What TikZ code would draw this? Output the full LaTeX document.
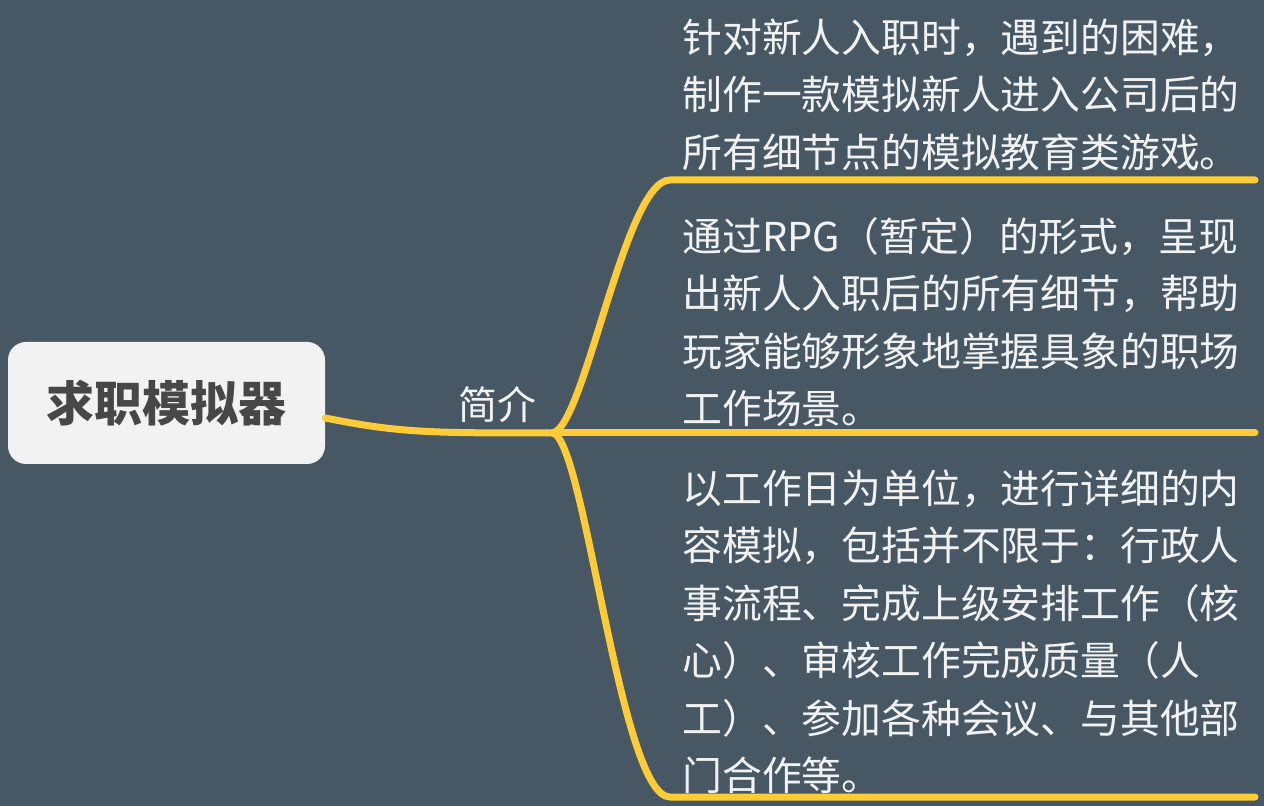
\documentclass[tikz,border=0pt]{standalone}
\usepackage{fontspec}
\setmainfont{Liberation Sans}
\newfontfamily\cjk{Noto Sans CJK SC}
\usetikzlibrary{calc}
\definecolor{bg}{HTML}{475864}
\definecolor{branch}{HTML}{FFCB37}
\definecolor{rootfill}{HTML}{F2F2F2}
\definecolor{rootink}{HTML}{474747}
\definecolor{leafink}{HTML}{F2F2F2}
\begin{document}
\begin{tikzpicture}[x=0.5pt,y=-0.5pt,
    branch/.style={draw=branch,line width=3.5pt,line cap=round},
    leaf/.style={anchor=west,inner sep=0pt,align=left,text=leafink,font=\cjk\fontsize{19.9}{28.75}\selectfont}]
            \fill[bg] (0,0) rectangle (1264,806);
            \node[fill=rootfill,rounded corners=9pt,minimum width=158.5pt,minimum height=61pt,text=rootink,font=\cjk\bfseries\fontsize{24}{28}\selectfont] (Root) at (166.5,403) {求职模拟器};
            \node[inner sep=0pt,text=leafink,font=\cjk\fontsize{19.5}{24}\selectfont] (Intro) at (497,405) {简介};
            \coordinate (J) at (553,433);
            \coordinate (T0) at (670,180);
            \coordinate (T1) at (1255,180);
            \coordinate (M1) at (1255,433);
            \coordinate (B0) at (670,797);
            \coordinate (B1) at (1255,797);
            \node[leaf] (Leaf1) at (682,94.5) {针对新人入职时，遇到的困难，\\制作一款模拟新人进入公司后的\\所有细节点的模拟教育类游戏。};
            \node[leaf] (Leaf2) at (682,322) {通过RPG（暂定）的形式，呈现\\出新人入职后的所有细节，帮助\\玩家能够形象地掌握具象的职场\\工作场景。};
            \node[leaf] (Leaf3) at (682,631.5) {以工作日为单位，进行详细的内\\容模拟，包括并不限于：行政人\\事流程、完成上级安排工作（核\\心）、审核工作完成质量（人\\工）、参加各种会议、与其他部\\门合作等。};
            \draw[branch] ([yshift=-7.5pt]Root.east) .. controls (400,433) and (430,433) .. (J);
            \draw[branch] (J) .. controls (585,425) and (625,180) .. (T0) -- (T1);
            \draw[branch] (J) -- (M1);
            \draw[branch] (J) .. controls (585,441) and (620,797) .. (B0) -- (B1);
        \end{tikzpicture}
\end{document}
